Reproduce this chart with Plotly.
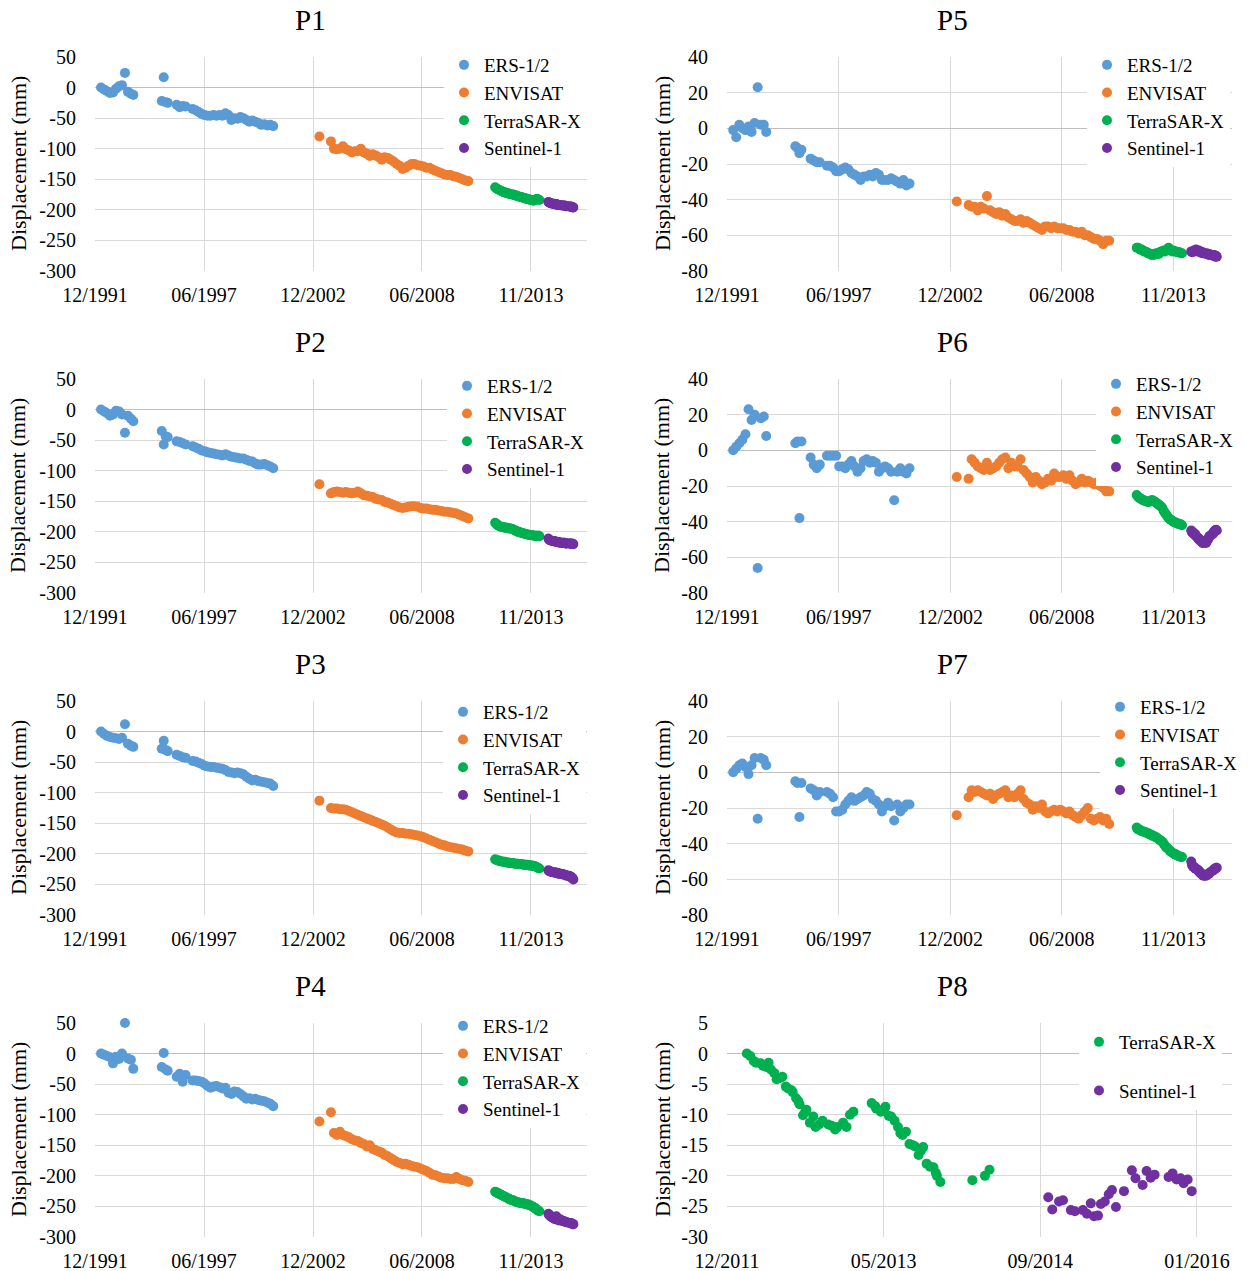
import pandas as pd
import plotly.graph_objects as go

# ---------------------------------------------------------------------------
# Acquisition epochs (decimal years) shared by the P1-P7 time series
# ---------------------------------------------------------------------------
ERS_YEARS = [1992.30, 1992.45, 1992.60, 1992.75, 1992.90, 1993.05, 1993.20, 1993.35,
             1993.50, 1993.65, 1993.80, 1993.92, 1995.35, 1995.45, 1995.55, 1995.65,
             1996.10, 1996.25, 1996.40, 1996.55, 1996.90, 1997.05, 1997.20, 1997.35,
             1997.50, 1997.65, 1997.80, 1997.95, 1998.10, 1998.25, 1998.40, 1998.55,
             1998.70, 1998.85, 1999.00, 1999.15, 1999.30, 1999.45, 1999.60, 1999.75,
             1999.90, 2000.05, 2000.20, 2000.35, 2000.50, 2000.65, 2000.80, 2000.95]
ENVISAT_YEARS = [2003.27, 2003.85, 2004.00, 2004.15, 2004.30, 2004.45, 2004.60, 2004.75,
                 2004.90, 2005.05, 2005.20, 2005.35, 2005.50, 2005.65, 2005.80, 2005.95,
                 2006.10, 2006.25, 2006.40, 2006.55, 2006.70, 2006.85, 2007.00, 2007.15,
                 2007.30, 2007.45, 2007.60, 2007.75, 2007.90, 2008.05, 2008.20, 2008.35,
                 2008.50, 2008.65, 2008.80, 2008.95, 2009.10, 2009.25, 2009.40, 2009.55,
                 2009.70, 2009.85, 2010.00, 2010.15, 2010.30, 2010.45, 2010.60, 2010.75]
TSX_YEARS = [2012.10, 2012.16, 2012.22, 2012.28, 2012.34, 2012.40, 2012.46, 2012.52,
             2012.58, 2012.64, 2012.70, 2012.76, 2012.82, 2012.88, 2012.94, 2013.00,
             2013.06, 2013.12, 2013.18, 2013.24, 2013.30, 2013.36, 2013.42, 2013.48,
             2013.54, 2013.60, 2013.66, 2013.72, 2013.78, 2013.84, 2013.90, 2013.96,
             2014.02, 2014.08, 2014.14, 2014.20, 2014.26, 2014.32]
S1_YEARS = [2014.774, 2014.809, 2014.868, 2014.903, 2014.972, 2015.007, 2015.077, 2015.112,
            2015.146, 2015.174, 2015.209, 2015.234, 2015.268, 2015.303, 2015.331, 2015.366,
            2015.436, 2015.505, 2015.537, 2015.599, 2015.634, 2015.669, 2015.704, 2015.826,
            2015.861, 2015.896, 2015.931, 2015.958, 2015.993, 2016.028]

# TerraSAR-X epochs of the P8 series
P8_TSX_YEARS = [2012.14, 2012.17, 2012.20, 2012.22, 2012.26, 2012.28, 2012.31, 2012.33,
                2012.35, 2012.38, 2012.40, 2012.43, 2012.45, 2012.48, 2012.50, 2012.53,
                2012.54, 2012.57, 2012.59, 2012.60, 2012.63, 2012.65, 2012.66, 2012.69,
                2012.72, 2012.74, 2012.77, 2012.80, 2012.85, 2012.88, 2012.91, 2012.93,
                2012.98, 2013.01, 2013.04, 2013.07, 2013.23, 2013.26, 2013.27, 2013.31,
                2013.34, 2013.35, 2013.38, 2013.40, 2013.43, 2013.46, 2013.48, 2013.50,
                2013.53, 2013.56, 2013.59, 2013.61, 2013.64, 2013.66, 2013.68, 2013.71,
                2013.74, 2013.77, 2013.79, 2013.80, 2013.83, 2014.11, 2014.22, 2014.26]

# ---------------------------------------------------------------------------
# Displacement values (mm)
# ---------------------------------------------------------------------------
P1_ERS = [0, -3, -6, -9, -8, -2, 2, 4, 24, -7, -10, -12, -22, 17, -24, -25, -28, -32, -30, -31,
          -35, -37, -40, -43, -45, -46, -46, -45, -46, -45, -46, -42, -45, -53, -50, -51, -48,
          -50, -53, -56, -54, -56, -58, -61, -60, -62, -61, -63]
P1_ENVISAT = [-80, -88, -100, -101, -100, -96, -101, -103, -106, -104, -104, -100, -106, -108,
              -112, -109, -111, -114, -118, -114, -115, -118, -121, -125, -128, -133, -131, -128,
              -125, -125, -127, -128, -129, -131, -131, -134, -136, -138, -140, -142, -143, -143,
              -145, -146, -148, -150, -152, -153]
P1_TSX = [-163, -165, -166, -167, -168, -169, -170, -171, -171, -172, -173, -173, -174, -174,
          -175, -175, -176, -176, -177, -178, -178, -179, -179, -180, -180, -181, -182, -182,
          -183, -183, -184, -184, -185, -184, -183, -182, -183, -184]
P1_S1 = [-187, -188, -189, -189, -190, -190, -190, -191, -191, -191, -191, -192, -192, -192, -192,
         -192, -193, -193, -193, -193, -194, -194, -194, -194, -195, -195, -195, -195, -196, -196]

P2_ERS = [0, -3, -6, -10, -8, -2, -3, -8, -38, -10, -15, -19, -35, -57, -44, -45, -52, -53, -55,
          -57, -60, -62, -64, -67, -68, -70, -71, -72, -73, -74, -75, -73, -75, -77, -78, -79,
          -80, -80, -82, -84, -85, -88, -90, -90, -89, -91, -93, -96]
P2_ENVISAT = [-122, -137, -135, -134, -135, -136, -135, -136, -137, -136, -134, -137, -140, -141,
              -142, -143, -146, -147, -148, -151, -152, -154, -156, -158, -160, -161, -160, -159,
              -158, -158, -159, -161, -162, -162, -163, -164, -164, -165, -166, -167, -167, -168,
              -169, -170, -172, -174, -176, -178]
P2_TSX = [-185, -187, -189, -190, -191, -192, -192, -193, -193, -193, -194, -194, -194, -195,
          -195, -196, -197, -198, -199, -200, -200, -201, -202, -202, -203, -203, -204, -204,
          -205, -205, -205, -206, -206, -206, -207, -207, -206, -207]
P2_S1 = [-211, -213, -214, -214, -215, -215, -215, -216, -216, -216, -216, -217, -217, -217, -217,
         -218, -218, -218, -218, -218, -219, -219, -219, -219, -219, -219, -220, -219, -220, -220]

P3_ERS = [0, -4, -7, -9, -10, -11, -12, -10, 12, -20, -23, -25, -28, -15, -30, -32, -38, -40, -42,
          -43, -48, -49, -51, -53, -56, -57, -58, -58, -59, -60, -61, -63, -66, -67, -68, -67,
          -68, -70, -74, -77, -80, -79, -81, -82, -83, -84, -85, -89]
P3_ENVISAT = [-113, -125, -126, -126, -127, -127, -128, -130, -132, -134, -136, -138, -140, -142,
              -144, -146, -148, -150, -152, -154, -157, -160, -163, -165, -166, -166, -167, -167,
              -168, -169, -170, -171, -173, -175, -177, -179, -181, -183, -185, -186, -188, -189,
              -190, -191, -192, -193, -195, -196]
P3_TSX = [-209, -210, -211, -211, -212, -212, -213, -213, -213, -214, -214, -214, -215, -215,
          -215, -215, -216, -216, -216, -216, -217, -217, -217, -217, -218, -218, -218, -218,
          -219, -219, -219, -219, -220, -220, -221, -222, -223, -224]
P3_S1 = [-227, -228, -229, -229, -230, -230, -230, -231, -231, -231, -231, -232, -232, -232, -232,
         -233, -233, -233, -234, -234, -235, -235, -236, -236, -237, -238, -238, -239, -240, -242]

P4_ERS = [0, -2, -4, -6, -16, -5, -9, 0, 50, -8, -10, -25, -22, 1, -26, -28, -38, -33, -46, -35,
          -44, -44, -45, -46, -49, -53, -56, -54, -53, -55, -57, -56, -64, -66, -62, -63, -66,
          -70, -74, -73, -75, -74, -76, -77, -78, -80, -82, -86]
P4_ENVISAT = [-111, -96, -130, -133, -128, -133, -135, -137, -140, -142, -143, -146, -148, -152,
              -150, -156, -158, -160, -162, -166, -168, -171, -174, -177, -179, -181, -180, -182,
              -184, -185, -186, -188, -190, -192, -195, -198, -199, -201, -203, -204, -204, -205,
              -205, -202, -205, -207, -208, -210]
P4_TSX = [-226, -227, -228, -229, -230, -231, -232, -233, -234, -235, -236, -237, -238, -239,
          -240, -240, -241, -242, -243, -243, -244, -244, -245, -245, -245, -246, -246, -247,
          -247, -248, -249, -250, -251, -252, -254, -255, -257, -258]
P4_S1 = [-262, -264, -265, -267, -268, -269, -270, -271, -268, -266, -269, -271, -272, -273, -272,
         -271, -273, -274, -274, -275, -275, -276, -276, -277, -277, -277, -278, -278, -279, -279]

P5_ERS = [-1, -5, 2, 0, -1, 1, -2, 3, 23, 2, 2, -2, -10, -11, -14, -12, -17, -18, -19, -19, -21,
          -21, -22, -24, -24, -23, -22, -23, -25, -26, -27, -29, -27, -27, -26, -27, -25, -26,
          -29, -29, -29, -28, -29, -30, -31, -29, -32, -31]
P5_ENVISAT = [-41, -43, -44, -44, -46, -44, -45, -38, -46, -47, -48, -47, -49, -48, -50, -51, -52,
              -52, -51, -53, -52, -53, -54, -55, -56, -57, -55, -55, -56, -55, -56, -56, -56, -57,
              -57, -58, -58, -59, -58, -60, -60, -61, -62, -62, -63, -65, -63, -63]
P5_TSX = [-67, -67, -67.5, -68, -68, -68.5, -69, -69, -69.5, -70, -70, -70.5, -71, -70.5, -71,
          -70.5, -70, -70, -70.5, -69.5, -69, -69, -68.5, -69, -68.5, -68, -67, -68, -68.5, -69,
          -68.5, -69, -69, -69.5, -69.5, -69.5, -70, -70]
P5_S1 = [-69, -69.5, -69, -68.5, -69, -68, -68.5, -69, -68.5, -69, -69.5, -69, -69.5, -70, -69.5,
         -70, -70, -70.5, -70, -70.5, -71, -70.5, -71, -71, -71.5, -71, -71.5, -72, -71.5, -72]

P6_ERS = [0, 2, 4, 6, 9, 23, 17, 20, -66, 18, 19, 8, 4, 5, -38, 5, -4, -8, -10, -8, -3, -3, -3,
          -3, -9, -9, -10, -8, -6, -9, -12, -10, -6, -5, -7, -6, -7, -12, -10, -9, -10, -12, -28,
          -12, -10, -12, -13, -10]
P6_ENVISAT = [-15, -16, -5, -7, -9, -10, -11, -7, -11, -10, -9, -7, -5, -4, -10, -7, -9, -9, -5,
              -11, -13, -15, -18, -15, -17, -19, -18, -16, -17, -13, -15, -15, -14, -16, -14, -17,
              -19, -18, -16, -18, -17, -18, -19, -18, -20, -21, -23, -23]
P6_TSX = [-25, -26, -26.5, -27, -27.5, -28, -28, -28.5, -28.5, -29, -29, -28.5, -28, -28, -28.5,
          -29, -29.5, -30, -30.5, -31, -31.5, -32.5, -34, -35, -36, -37, -38, -38.5, -39, -39.5,
          -40, -40.5, -40.5, -41, -41, -41.5, -41.5, -42]
P6_S1 = [-45, -46, -46, -47, -47, -48, -49, -49, -50, -50, -50, -51, -51, -51, -52, -52, -51, -52,
         -51, -50, -49, -48, -48, -47, -46, -46, -45, -45, -44.5, -45]

P7_ERS = [0, 2, 4, 5, 3, -1, 4, 8, -26, 8, 7, 4, -5, -6, -25, -6, -9, -10, -13, -11, -11, -12,
          -14, -22, -22, -21, -18, -16, -14, -16, -15, -14, -13, -11, -12, -15, -16, -18, -22,
          -19, -17, -19, -27, -18, -22, -20, -18, -18]
P7_ENVISAT = [-24, -14, -10, -11, -10, -11, -12, -13, -12, -15, -13, -12, -11, -10, -14, -13, -14,
              -12, -10, -15, -17, -18, -21, -19, -20, -18, -22, -23, -22, -21, -22, -21, -22, -23,
              -22, -24, -25, -26, -24, -22, -20, -26, -27, -26, -25, -27, -26, -29]
P7_TSX = [-31, -32, -32, -32.5, -33, -33, -33.5, -33.5, -34, -34, -34.5, -35, -35, -35.5, -36,
          -36, -36.5, -37, -37.5, -38, -38.5, -39, -40, -41, -42, -42.5, -43, -44, -44.5, -45,
          -45.5, -46, -46, -46.5, -47, -47, -47.5, -47.5]
P7_S1 = [-50, -52, -53, -53, -54, -54, -54.5, -55, -55, -56, -56, -56.5, -57, -57, -57.5, -58, -58,
         -58, -57.5, -57, -57, -56.5, -56, -55, -55, -54.5, -54, -54, -53.5, -53.5]

P8_TSX = [0, -0.4, -1.2, -1.5, -1.6, -2.0, -2.2, -1.5, -2.6, -3.2, -4.2, -4.0, -3.8, -5.4, -5.7,
          -6.0, -6.3, -7.3, -7.8, -8.3, -10.1, -9.5, -9.2, -11.3, -10.3, -12.0, -11.6, -11.0,
          -11.6, -11.8, -12.4, -12.0, -11.3, -12.0, -10.0, -9.5, -8.1, -8.6, -9.0, -9.5, -9.0,
          -8.7, -10.2, -10.3, -11.0, -12.0, -13.0, -13.3, -12.8, -14.8, -15.0, -15.2, -16.6,
          -15.9, -15.3, -18.0, -18.5, -18.6, -19.5, -20.0, -21.0, -20.7, -20.0, -19.0]
P8_S1 = [-23.5, -25.5, -24.2, -24.0, -25.6, -25.8, -25.6, -26.2, -24.5, -26.6, -26.5, -24.6, -24.2,
         -23.0, -22.3, -25.1, -22.5, -19.1, -20.4, -21.5, -19.2, -20.3, -19.8, -20.2, -19.6, -20.6,
         -20.4, -21.2, -20.6, -22.5]

# ---------------------------------------------------------------------------
# Axis tick labels
# ---------------------------------------------------------------------------
LONG_TICK_DATES = ["1991-12-31", "1997-06-23", "2002-12-14", "2008-06-04", "2013-11-25"]
LONG_TICK_TEXT = ["12/1991", "06/1997", "12/2002", "06/2008", "11/2013"]
P8_TICK_DATES = ["2011-12-20", "2013-05-03", "2014-09-15", "2016-01-28"]
P8_TICK_TEXT = ["12/2011", "05/2013", "09/2014", "01/2016"]
Y_TICKS_LEFT = [-300, -250, -200, -150, -100, -50, 0, 50]
Y_TICKS_RIGHT = [-80, -60, -40, -20, 0, 20, 40]
Y_TICKS_P8 = [-30, -25, -20, -15, -10, -5, 0, 5]

SENSORS = ["ERS-1/2", "ENVISAT", "TerraSAR-X", "Sentinel-1"]
COLORS = {"ERS-1/2": "#5B9BD5", "ENVISAT": "#ED7D31",
          "TerraSAR-X": "#00B050", "Sentinel-1": "#7030A0"}


def to_dates(years):
    """Convert decimal years to timestamps."""
    out = []
    for y in years:
        base = int(y)
        start = pd.Timestamp(year=base, month=1, day=1)
        span = (pd.Timestamp(year=base + 1, month=1, day=1) - start).days
        out.append(start + pd.Timedelta(days=(y - base) * span))
    return out


W, H = 1254, 1271
FONT = "Liberation Serif"
GRID = "#D9D9D9"

# pixel frame of each plot area
COL_X = [(95, 587), (727, 1232)]
ROW_Y = [(57, 271), (379, 593), (701, 915), (1023, 1237)]
TITLE_X = [310, 953]
YTITLE_X = [18, 662]
LEGEND_LEFT = {1: 444, 2: 447, 3: 443, 4: 443, 5: 1087, 6: 1096, 7: 1100, 8: 1079}
LEGEND_TOP = {1: 46, 2: 367, 3: 693, 4: 1007, 5: 46, 6: 365, 7: 688, 8: 1023}

PANELS = [
    ("P1", 0, 0, [(ERS_YEARS, P1_ERS), (ENVISAT_YEARS, P1_ENVISAT), (TSX_YEARS, P1_TSX), (S1_YEARS, P1_S1)]),
    ("P2", 1, 0, [(ERS_YEARS, P2_ERS), (ENVISAT_YEARS, P2_ENVISAT), (TSX_YEARS, P2_TSX), (S1_YEARS, P2_S1)]),
    ("P3", 2, 0, [(ERS_YEARS, P3_ERS), (ENVISAT_YEARS, P3_ENVISAT), (TSX_YEARS, P3_TSX), (S1_YEARS, P3_S1)]),
    ("P4", 3, 0, [(ERS_YEARS, P4_ERS), (ENVISAT_YEARS, P4_ENVISAT), (TSX_YEARS, P4_TSX), (S1_YEARS, P4_S1)]),
    ("P5", 0, 1, [(ERS_YEARS, P5_ERS), (ENVISAT_YEARS, P5_ENVISAT), (TSX_YEARS, P5_TSX), (S1_YEARS, P5_S1)]),
    ("P6", 1, 1, [(ERS_YEARS, P6_ERS), (ENVISAT_YEARS, P6_ENVISAT), (TSX_YEARS, P6_TSX), (S1_YEARS, P6_S1)]),
    ("P7", 2, 1, [(ERS_YEARS, P7_ERS), (ENVISAT_YEARS, P7_ENVISAT), (TSX_YEARS, P7_TSX), (S1_YEARS, P7_S1)]),
    ("P8", 3, 1, [None, None, (P8_TSX_YEARS, P8_TSX), (S1_YEARS, P8_S1)]),
]

fig = go.Figure()
layout = dict(width=W, height=H, margin=dict(l=0, r=0, t=0, b=0, autoexpand=False),
              paper_bgcolor="white", plot_bgcolor="white",
              font=dict(family=FONT, size=20, color="black"),
              showlegend=True, annotations=[])

for i, (name, row, col, series) in enumerate(PANELS, start=1):
    xa = "xaxis" if i == 1 else f"xaxis{i}"
    ya = "yaxis" if i == 1 else f"yaxis{i}"
    lg = "legend" if i == 1 else f"legend{i}"
    x0, x1 = COL_X[col]
    y0, y1 = ROW_Y[row]

    for sensor, data in zip(SENSORS, series):
        if data is None:
            continue
        years, vals = data
        assert len(years) == len(vals), (name, sensor)
        fig.add_trace(go.Scatter(
            x=to_dates(years), y=vals, mode="markers", name=sensor,
            marker=dict(color=COLORS[sensor], size=10, line=dict(width=0)),
            xaxis=f"x{i}" if i > 1 else "x", yaxis=f"y{i}" if i > 1 else "y",
            legend=lg, legendgroup=f"{name}-{sensor}", showlegend=True,
            cliponaxis=False,
        ))

    if name == "P8":
        tvals, ttext = P8_TICK_DATES, P8_TICK_TEXT
        xrange = ["2011-12-20", "2016-05-19"]
        yticks = Y_TICKS_P8
    else:
        tvals, ttext = LONG_TICK_DATES, LONG_TICK_TEXT
        xrange = ["1991-12-31", "2016-09-18"] if col == 0 else ["1991-12-31", "2016-10-10"]
        yticks = Y_TICKS_LEFT if col == 0 else Y_TICKS_RIGHT

    layout[xa] = dict(
        domain=[x0 / W, x1 / W], anchor=f"y{i}" if i > 1 else "y", automargin=False,
        type="date", range=xrange, tickmode="array", tickvals=tvals, ticktext=ttext,
        showgrid=True, gridcolor=GRID, gridwidth=1, showline=False, zeroline=False,
        ticks="outside", ticklen=6, tickcolor="rgba(0,0,0,0)",
        tickfont=dict(family=FONT, size=20, color="black"),
    )
    layout[ya] = dict(
        domain=[1 - y1 / H, 1 - y0 / H], anchor=f"x{i}" if i > 1 else "x", automargin=False,
        range=[yticks[0], yticks[-1]], tickmode="array", tickvals=yticks,
        ticktext=[str(v) for v in yticks],
        showgrid=True, gridcolor=GRID, gridwidth=1, showline=False,
        zeroline=True, zerolinecolor="#BFBFBF", zerolinewidth=1,
        ticks="outside", ticklen=14, tickcolor="rgba(0,0,0,0)",
        tickfont=dict(family=FONT, size=20, color="black"),
    )
    layout[lg] = dict(
        x=LEGEND_LEFT[i] / W, y=1 - LEGEND_TOP[i] / H, xanchor="left", yanchor="top",
        bgcolor="white", borderwidth=0, font=dict(family=FONT, size=19, color="black"),
        traceorder="grouped", tracegroupgap=21 if name == "P8" else 0,
        itemclick=False, itemdoubleclick=False,
    )

    layout["annotations"].append(dict(
        text=name, x=TITLE_X[col] / W, y=1 - (y0 - 37) / H, xref="paper", yref="paper",
        xanchor="center", yanchor="middle", showarrow=False,
        font=dict(family=FONT, size=29, color="black")))
    layout["annotations"].append(dict(
        text="Displacement (mm)", x=YTITLE_X[col] / W, y=1 - ((y0 + y1) / 2) / H,
        xref="paper", yref="paper", xanchor="center", yanchor="middle", textangle=-90,
        showarrow=False, font=dict(family=FONT, size=22, color="black")))

fig.update_layout(**layout)
fig.write_html("out.html")
